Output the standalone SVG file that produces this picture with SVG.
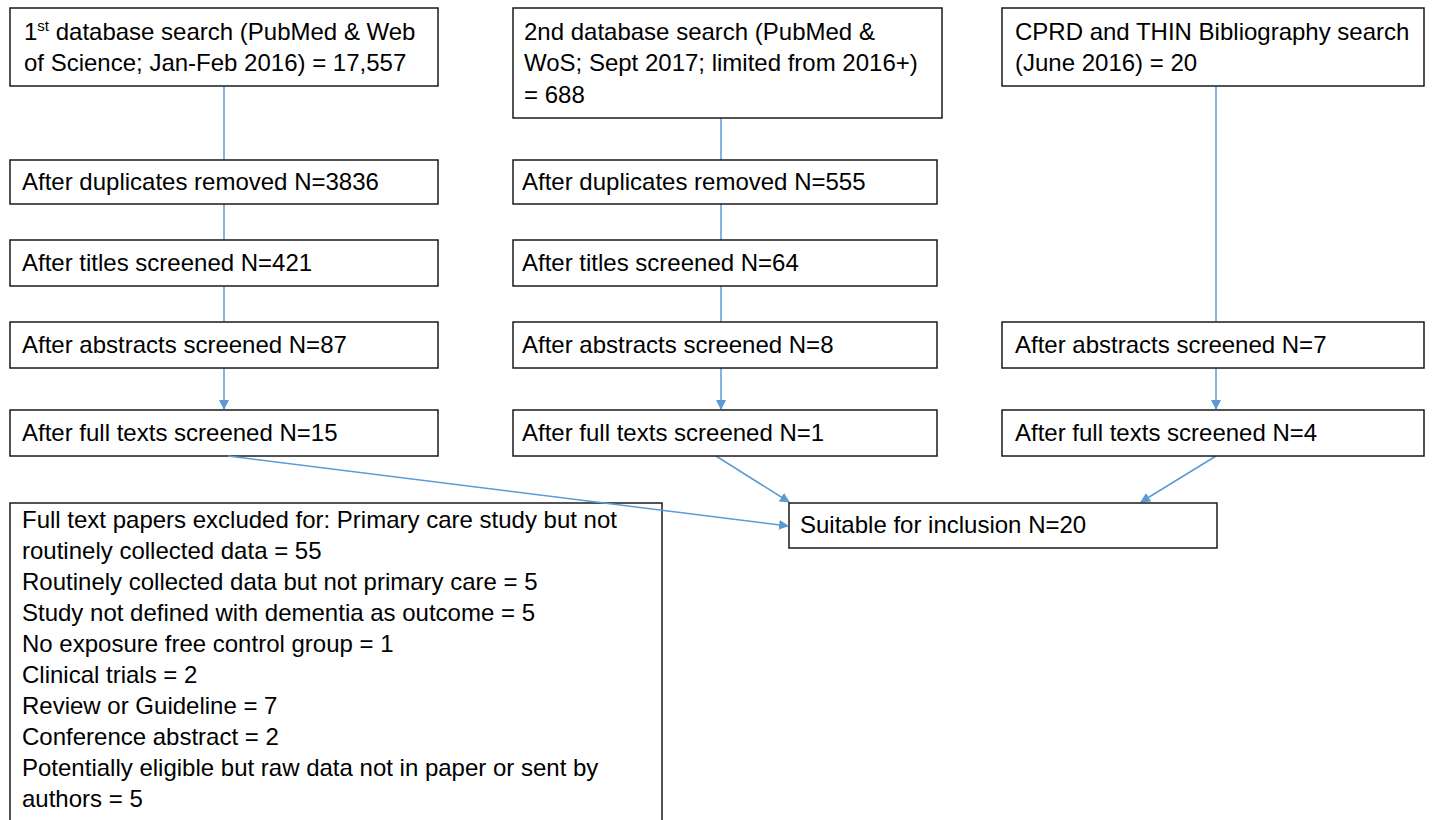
<svg xmlns="http://www.w3.org/2000/svg" width="1434" height="820" viewBox="0 0 1434 820">
<defs>
<style>
.box{fill:#fff;stroke:#1a1a1a;stroke-width:1.5}
.t{font-family:"Liberation Sans",Arial,sans-serif;font-size:24px;fill:#000}
.c{stroke:#5B9BD5;stroke-width:1.5;fill:none}
</style>
<marker id="ah" markerWidth="10" markerHeight="10" refX="9" refY="5" orient="auto" markerUnits="userSpaceOnUse">
<path d="M0,0 L10,5 L0,10 Z" fill="#5B9BD5"/>
</marker>
</defs>
<rect width="1434" height="820" fill="#fff"/>

<g id="connectors">
<line class="c" x1="224" y1="86" x2="224" y2="160"/>
<line class="c" x1="224" y1="204" x2="224" y2="240"/>
<line class="c" x1="224" y1="286" x2="224" y2="322"/>
<line class="c" x1="224" y1="368" x2="224" y2="409" marker-end="url(#ah)"/>
<line class="c" x1="721" y1="118" x2="721" y2="160"/>
<line class="c" x1="721" y1="204" x2="721" y2="240"/>
<line class="c" x1="721" y1="286" x2="721" y2="322"/>
<line class="c" x1="721" y1="368" x2="721" y2="409" marker-end="url(#ah)"/>
<line class="c" x1="1216" y1="86" x2="1216" y2="322"/>
<line class="c" x1="1216" y1="368" x2="1216" y2="409" marker-end="url(#ah)"/>
<line class="c" x1="716" y1="456" x2="789" y2="502" marker-end="url(#ah)"/>
<line class="c" x1="1216" y1="456" x2="1141" y2="502" marker-end="url(#ah)"/>
</g>

<g id="search1"><rect class="box" x="10" y="8" width="428" height="78"/>
<text class="t" x="24" y="40">1<tspan font-size="15" dy="-9">st</tspan><tspan dy="9"> database search (PubMed &amp; Web</tspan></text>
<text class="t" x="24" y="71">of Science; Jan-Feb 2016) = 17,557</text></g>

<g id="search2"><rect class="box" x="513" y="8" width="429" height="110"/>
<text class="t" x="524" y="40">2nd database search (PubMed &amp;</text>
<text class="t" x="524" y="71">WoS; Sept 2017; limited from 2016+)</text>
<text class="t" x="524" y="103">= 688</text></g>

<g id="search3"><rect class="box" x="1002" y="8" width="422" height="78"/>
<text class="t" x="1015" y="40">CPRD and THIN Bibliography search</text>
<text class="t" x="1015" y="71">(June 2016) = 20</text></g>

<g id="dup1"><rect class="box" x="10" y="160" width="428" height="44"/>
<text class="t" x="22" y="190">After duplicates removed N=3836</text></g>
<g id="dup2"><rect class="box" x="513" y="160" width="424" height="44"/>
<text class="t" x="522" y="190">After duplicates removed N=555</text></g>

<g id="titles1"><rect class="box" x="10" y="240" width="428" height="46"/>
<text class="t" x="22" y="271">After titles screened N=421</text></g>
<g id="titles2"><rect class="box" x="513" y="240" width="424" height="46"/>
<text class="t" x="522" y="271">After titles screened N=64</text></g>

<g id="abs1"><rect class="box" x="10" y="322" width="428" height="46"/>
<text class="t" x="22" y="353">After abstracts screened N=87</text></g>
<g id="abs2"><rect class="box" x="513" y="322" width="424" height="46"/>
<text class="t" x="522" y="353">After abstracts screened N=8</text></g>
<g id="abs3"><rect class="box" x="1002" y="322" width="422" height="46"/>
<text class="t" x="1015" y="353">After abstracts screened N=7</text></g>

<g id="full1"><rect class="box" x="10" y="410" width="428" height="46"/>
<text class="t" x="22" y="441">After full texts screened N=15</text></g>
<g id="full2"><rect class="box" x="513" y="410" width="424" height="46"/>
<text class="t" x="522" y="441">After full texts screened N=1</text></g>
<g id="full3"><rect class="box" x="1002" y="410" width="422" height="46"/>
<text class="t" x="1015" y="441">After full texts screened N=4</text></g>

<g id="excluded"><rect class="box" x="10" y="503" width="652" height="330"/>
<text class="t" x="22" y="528">Full text papers excluded for: Primary care study but not</text>
<text class="t" x="22" y="559">routinely collected data = 55</text>
<text class="t" x="22" y="590">Routinely collected data but not primary care = 5</text>
<text class="t" x="22" y="621">Study not defined with dementia as outcome = 5</text>
<text class="t" x="22" y="652">No exposure free control group = 1</text>
<text class="t" x="22" y="683">Clinical trials = 2</text>
<text class="t" x="22" y="714">Review or Guideline = 7</text>
<text class="t" x="22" y="745">Conference abstract = 2</text>
<text class="t" x="22" y="776">Potentially eligible but raw data not in paper or sent by</text>
<text class="t" x="22" y="807">authors = 5</text></g>

<g id="included"><rect class="box" x="789" y="503" width="428" height="45"/>
<text class="t" x="800" y="533">Suitable for inclusion N=20</text></g>

<g id="connector-over">
<line class="c" x1="228" y1="456" x2="788" y2="526" marker-end="url(#ah)"/>
</g>
</svg>
